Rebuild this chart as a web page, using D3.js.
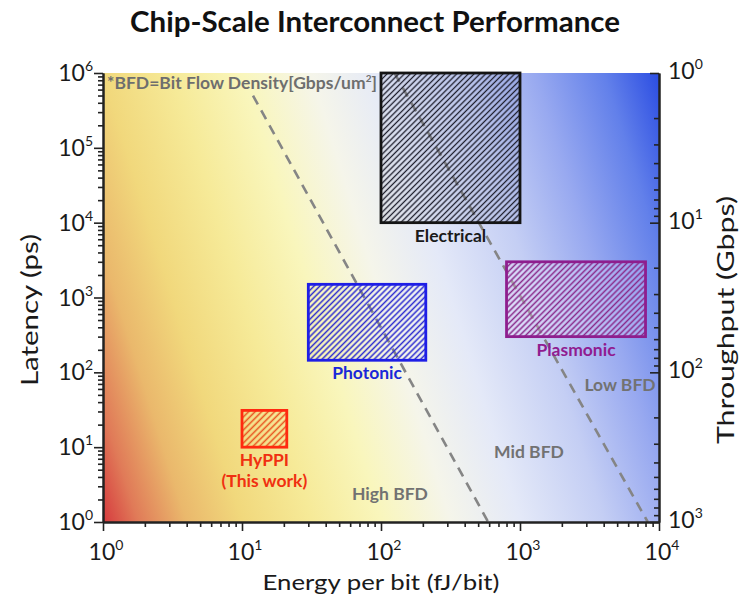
<!DOCTYPE html>
<html>
<head>
<meta charset="utf-8">
<script src="https://cdn.jsdelivr.net/npm/d3@7"></script>
<style>
  html, body { margin: 0; padding: 0; background: #fff; }
  svg { display: block; font-family: Lato, "Open Sans", sans-serif; }
</style>
</head>
<body>
<svg id="chart" width="744" height="607"></svg>
<script>
// ---------------- data ----------------
const categories = ["Electrical", "Photonic", "Plasmonic", "HyPPI"];
const labelLines = [["Electrical"], ["Photonic"], ["Plasmonic"], ["HyPPI", "(This work)"]];
const energyMin = [100, 30, 800, 10];      // fJ/bit
const energyMax = [1000, 210, 8000, 21];
const latencyMin = [1e4, 145, 300, 10];    // ps
const latencyMax = [1e6, 1500, 3000, 31];

// BFD boundary lines (energy, latency) endpoints
const bfdLine1 = [[12, 5e5], [590, 1]];
const bfdLine2 = [[125, 1e6], [8300, 1]];

const regionNames = ["High BFD", "Mid BFD", "Low BFD"];
const regionEnergy = [116, 1160, 5240];
const regionLatency = [1.97, 7.2, 56.6];

const xTicks = [1, 10, 100, 1000, 10000];
const xTickExp = ["0", "1", "2", "3", "4"];
const yTicks = [1, 10, 100, 1e3, 1e4, 1e5, 1e6];
const yTickExp = ["0", "1", "2", "3", "4", "5", "6"];
const y2Ticks = [1, 10, 100, 1000];
const y2TickExp = ["0", "1", "2", "3"];

const title = "Chip-Scale Interconnect Performance";
const xLabel = "Energy per bit (fJ/bit)";
const yLabel = "Latency (ps)";
const y2Label = "Throughput (Gbps)";

// ---------------- styles ----------------
const strokeColors = ["#141414", "#1e1ee6", "#8e1e8e", "#ff2a10"];
const hatchColors = ["#1c1c2a", "#2a2ad0", "#8a2a8a", "#e8501c"];
const fillColors = ["rgba(70,80,130,0.08)", "rgba(255,255,255,0)", "rgba(255,230,255,0.25)", "rgba(255,255,255,0)"];
const textColors = ["#1a1a1a", "#1a28d8", "#901c90", "#f03010"];

// ---------------- layout ----------------
const L = 103, R = 659, T = 73, B = 522;
const svg = d3.select("#chart");

const x = d3.scaleLog().domain([1, 1e4]).range([L, R]);
const y = d3.scaleLog().domain([1, 1e6]).range([B, T]);
const y2 = d3.scaleLog().domain([1, 1000]).range([T, B]);

const defs = svg.append("defs");

// background gradient
const ux = 0.955, uy = -0.298, span = 665;
const grad = defs.append("linearGradient").attr("id", "bg")
  .attr("gradientUnits", "userSpaceOnUse")
  .attr("x1", L).attr("y1", B)
  .attr("x2", L + span * ux).attr("y2", B + span * uy);
const stops = [
  [0.00, "#d63a3e"], [0.05, "#e07a58"], [0.12, "#eab86c"], [0.20, "#f1d87c"],
  [0.30, "#f6ea98"], [0.40, "#f9f6bc"], [0.50, "#f5f5ea"], [0.60, "#e4e9f8"],
  [0.72, "#c4cef4"], [0.82, "#98a9f0"], [0.92, "#6280ea"], [1.00, "#2a4ce2"]
];
stops.forEach(s => grad.append("stop").attr("offset", s[0]).attr("stop-color", s[1]));

// hatch patterns
categories.forEach((c, i) => {
  const sp = i === 3 ? 4.6 : 4.1;
  const p = defs.append("pattern").attr("id", "hatch" + i)
    .attr("patternUnits", "userSpaceOnUse")
    .attr("width", sp).attr("height", sp)
    .attr("patternTransform", "rotate(45)");
  p.append("rect").attr("width", sp).attr("height", sp).attr("fill", fillColors[i]);
  p.append("line").attr("x1", sp / 2).attr("y1", 0).attr("x2", sp / 2).attr("y2", sp)
    .attr("stroke", hatchColors[i]).attr("stroke-width", i === 0 ? 1.3 : 1.5);
});

defs.append("clipPath").attr("id", "plotclip")
  .append("rect").attr("x", L).attr("y", T).attr("width", R - L).attr("height", B - T);

svg.append("rect").attr("x", L).attr("y", T).attr("width", R - L).attr("height", B - T)
  .attr("fill", "url(#bg)");

const plot = svg.append("g").attr("clip-path", "url(#plotclip)");

// dashed BFD lines
const line = d3.line().x(d => x(d[0])).y(d => y(d[1]));
[bfdLine1, bfdLine2].forEach(pts => {
  plot.append("path").attr("d", line(pts))
    .attr("fill", "none").attr("stroke", "#858585")
    .attr("stroke-width", 2.6).attr("stroke-dasharray", "10,7");
});

// boxes
categories.forEach((c, i) => {
  const x0 = x(energyMin[i]), x1 = x(energyMax[i]);
  const y0 = y(latencyMax[i]), y1 = y(latencyMin[i]);
  svg.append("rect")
    .attr("x", x0).attr("y", y0).attr("width", x1 - x0).attr("height", y1 - y0)
    .attr("fill", "url(#hatch" + i + ")")
    .attr("stroke", strokeColors[i]).attr("stroke-width", 2.8);
  const cx = (x0 + x1) / 2;
  labelLines[i].forEach((t, k) => {
    svg.append("text").attr("x", cx).attr("y", y1 + 19 + k * 21)
      .attr("text-anchor", "middle").attr("font-weight", "bold")
      .attr("font-size", 17.5).attr("fill", textColors[i]).text(t);
  });
});

// region labels
regionNames.forEach((t, i) => {
  svg.append("text").attr("x", x(regionEnergy[i])).attr("y", y(regionLatency[i]))
    .attr("text-anchor", "middle").attr("font-weight", "bold")
    .attr("font-size", 17.5).attr("fill", "#727272").text(t);
});

// BFD note
const note = svg.append("text").attr("x", L + 4).attr("y", T + 16)
  .attr("font-weight", "bold").attr("font-size", 17.5).attr("fill", "#6e6e6e");
note.append("tspan").text("*BFD=Bit Flow Density[Gbps/um");
note.append("tspan").attr("dy", -7).attr("font-size", 10).text("2");
note.append("tspan").attr("dy", 7).text("]");

// ---------------- axes ----------------
function minorTicks(scale) {
  return scale.ticks(30).filter(v => {
    const e = Math.log10(v);
    return Math.abs(e - Math.round(e)) > 1e-9;
  });
}
const axisStyle = g => {
  g.select(".domain").attr("stroke", "#222").attr("stroke-width", 2);
  g.selectAll(".tick line").attr("stroke", "#222").attr("stroke-width", 1.6);
};

// bottom
svg.append("g").attr("transform", `translate(0,${B})`)
  .call(d3.axisBottom(x).tickValues(minorTicks(x)).tickSize(5).tickFormat("").tickSizeOuter(0))
  .call(axisStyle);
svg.append("g").attr("transform", `translate(0,${B})`)
  .call(d3.axisBottom(x).tickValues(xTicks).tickSize(9).tickFormat("").tickSizeOuter(0))
  .call(axisStyle);
// left
svg.append("g").attr("transform", `translate(${L},0)`)
  .call(d3.axisLeft(y).tickValues(minorTicks(y)).tickSize(5).tickFormat("").tickSizeOuter(0))
  .call(axisStyle);
svg.append("g").attr("transform", `translate(${L},0)`)
  .call(d3.axisLeft(y).tickValues(yTicks).tickSize(9).tickFormat("").tickSizeOuter(0))
  .call(axisStyle);
// right (inward ticks)
svg.append("g").attr("transform", `translate(${R},0)`)
  .call(d3.axisLeft(y2).tickValues(minorTicks(y2)).tickSize(5).tickFormat("").tickSizeOuter(0))
  .call(axisStyle);
svg.append("g").attr("transform", `translate(${R},0)`)
  .call(d3.axisLeft(y2).tickValues(y2Ticks).tickSize(9).tickFormat("").tickSizeOuter(0))
  .call(axisStyle);

// tick labels with superscripts
function powLabel(sel, px, py, exp, anchor) {
  const t = sel.append("text").attr("x", px).attr("y", py)
    .attr("text-anchor", anchor).attr("font-size", 23).attr("fill", "#1a1a1a");
  t.append("tspan").text("10");
  t.append("tspan").attr("dy", -10).attr("font-size", 14).text(exp);
}
xTicks.forEach((v, i) => powLabel(svg, x(v) + 3, B + 38, xTickExp[i], "middle"));
yTicks.forEach((v, i) => powLabel(svg, L - 10, y(v) + 8, yTickExp[i], "end"));
y2Ticks.forEach((v, i) => powLabel(svg, R + 9, y2(v) + 6, y2TickExp[i], "start"));

// axis titles
svg.append("text").attr("x", 381).attr("y", 590)
  .attr("text-anchor", "middle").attr("font-size", 22).attr("fill", "#1a1a1a")
  .attr("textLength", 237).attr("lengthAdjust", "spacingAndGlyphs").text(xLabel);
svg.append("text").attr("transform", `translate(38,310) rotate(-90)`)
  .attr("text-anchor", "middle").attr("font-size", 24).attr("fill", "#1a1a1a")
  .attr("textLength", 152).attr("lengthAdjust", "spacingAndGlyphs").text(yLabel);
svg.append("text").attr("transform", `translate(734,320) rotate(-90)`)
  .attr("text-anchor", "middle").attr("font-size", 24).attr("fill", "#1a1a1a")
  .attr("textLength", 248).attr("lengthAdjust", "spacingAndGlyphs").text(y2Label);

// title
svg.append("text").attr("x", 375).attr("y", 32)
  .attr("text-anchor", "middle").attr("font-weight", "bold")
  .attr("font-size", 28).attr("fill", "#111")
  .attr("textLength", 490).attr("lengthAdjust", "spacingAndGlyphs").text(title);
</script>
</body>
</html>
